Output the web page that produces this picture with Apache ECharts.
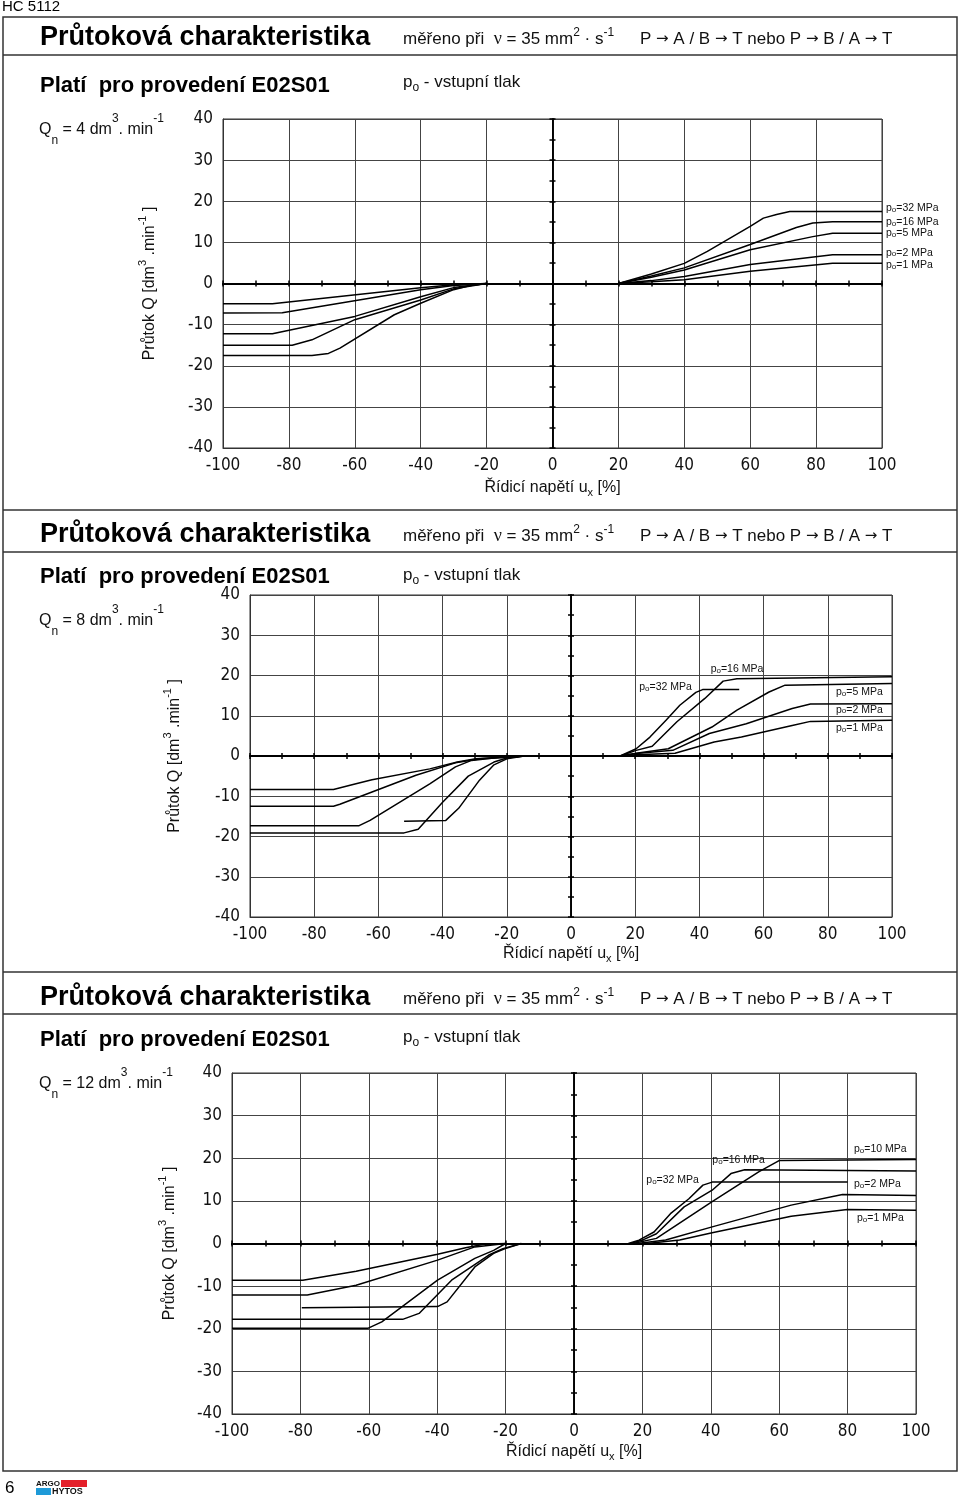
<!DOCTYPE html>
<html><head><meta charset="utf-8">
<script src="https://cdn.jsdelivr.net/npm/echarts/dist/echarts.min.js"></script>
<style>html,body{margin:0;padding:0;background:#fff}#c{width:960px;height:1501px}</style>
</head><body><div id="c"></div><script>
// ---------- tick labels ----------
const X_TICKS = [-100,-80,-60,-40,-20,0,20,40,60,80,100];
const Y_TICKS = [-40,-30,-20,-10,0,10,20,30,40];

// ---------- Panel 1 : Qn = 4 ----------
const q4_32_L = [[-100,-17.5],[-73,-17.5],[-68,-17],[-64.5,-15.7],[-48,-7.6],[-40,-4.8],[-30,-1.5],[-25,-0.5],[-20,0]];
const q4_16_L = [[-100,-15],[-79,-15],[-73,-13.7],[-60,-8.8],[-40,-4],[-30,-1.3],[-20,0]];
const q4_5_L  = [[-100,-12.2],[-85,-12.2],[-60,-8],[-40,-3.2],[-30,-1],[-20,0]];
const q4_2_L  = [[-100,-7.2],[-82,-7.1],[-40,-1.5],[-30,-0.5],[-20,0]];
const q4_1_L  = [[-100,-4.9],[-85,-4.9],[-40,-1.05],[-30,-0.3],[-20,0]];
const q4_32_R = [[20,0],[30,2.3],[40,4.9],[47,7.8],[60,13.9],[64,15.9],[68,16.8],[72,17.5],[100,17.5]];
const q4_16_R = [[20,0],[30,1.8],[40,3.8],[60,9.5],[74,13.6],[79,14.7],[85,15],[100,15]];
const q4_5_R  = [[20,0],[30,1.5],[40,3.3],[60,8.2],[79,11.4],[85,12.2],[100,12.2]];
const q4_2_R  = [[20,0],[30,0.7],[40,1.7],[60,4.6],[85,7],[100,7]];
const q4_1_R  = [[20,0],[30,0.4],[40,0.9],[60,3.0],[85,4.9],[100,4.9]];

// ---------- Panel 2 : Qn = 8 ----------
const q8_32_L = [[-52,-16.2],[-39,-16],[-35,-13],[-28.5,-6],[-24,-2.2],[-20,-0.7],[-14.6,0]];
const q8_16_L = [[-100,-19.1],[-52,-19.1],[-47.6,-18.2],[-40,-11.5],[-32,-5],[-24,-1.5],[-20,-0.5],[-15,0]];
const q8_5_L  = [[-100,-17.3],[-66,-17.3],[-62.6,-16],[-44,-6.9],[-36,-2.7],[-31,-1.1],[-22.6,-0.4],[-14.6,0]];
const q8_2_L  = [[-100,-12.5],[-74,-12.5],[-72,-12],[-48.3,-4.8],[-36,-1.7],[-28.3,-0.7],[-17,-0.25],[-14.6,0]];
const q8_1_L  = [[-100,-8.3],[-74,-8.3],[-67.6,-7],[-62,-5.9],[-44,-3.2],[-35.4,-1.5],[-29.7,-0.7],[-21,-0.25],[-14.6,0]];
const q8_32_R = [[15.3,0],[20.3,1.8],[24.6,4.7],[29.6,8.9],[33.9,12.6],[38.9,15.8],[41,16.5],[52.4,16.5]];
const q8_16_R = [[15.3,0],[20.3,1.4],[25.3,2.4],[33,8.5],[41.7,14.3],[47.4,18.6],[51.7,19.2],[100,19.7]];
const q8_5_R  = [[15.3,0],[20.3,0.7],[30.3,1.8],[43.9,7.2],[51.7,11.4],[61.7,15.9],[66.7,17.6],[100,18]];
const q8_2_R  = [[15.3,0],[20.3,0.6],[31.7,1.4],[43.1,5.6],[54.6,8],[68.9,11.8],[74.6,12.9],[100,13]];
const q8_1_R  = [[15.3,0],[20.3,0.3],[32.4,0.7],[44.6,3.5],[53.1,4.7],[68.9,7.6],[74.6,8.6],[100,8.9]];

// ---------- Panel 3 : Qn = 12 ----------
const q12_32_L = [[-79.6,-15.1],[-39.9,-14.8],[-37.1,-13.7],[-29,-5.5],[-23.5,-2.3],[-20.1,-1.2],[-15.4,0]];
const q12_16_L = [[-100,-17.8],[-50.1,-17.8],[-45.3,-16.4],[-35.8,-8.6],[-24.9,-2.7],[-20.8,-1.2],[-15.4,0]];
const q12_10_L = [[-100,-19.9],[-60.3,-19.9],[-56.2,-18.4],[-39.9,-8.6],[-29,-3.5],[-23.5,-1.6],[-20,0]];
const q12_2_L  = [[-100,-12.1],[-78,-12.1],[-63.7,-9.8],[-39.9,-3.9],[-29,-0.8],[-20,0]];
const q12_1_L  = [[-100,-8.6],[-79.3,-8.6],[-63.7,-6.5],[-39.9,-2.5],[-31.7,-1],[-26.3,-0.2],[-20,0]];
const q12_32_R = [[15.9,0],[19,0.8],[23.4,2.7],[28.2,7],[33.6,10.5],[37.7,13.7],[40.4,14.4],[80,14.4]];
const q12_16_R = [[16.6,0],[20,0.8],[24.1,2.3],[32.2,8.6],[40.4,12.5],[45.9,16.4],[49.9,17.3],[100,17]];
const q12_10_R = [[17.3,0],[24.1,1.2],[40.4,9.8],[54,16.8],[60.1,19.5],[100,19.7]];
const q12_2_R  = [[18.6,0],[26.8,0.8],[40.4,3.9],[63.5,9],[78.5,11.5],[100,11.25]];
const q12_1_R  = [[21.4,0],[30.9,0.8],[40.4,2.5],[63.5,6.4],[79.9,8],[100,7.8]];

// ---------- layout / styles ----------
const F = "'Liberation Sans', Arial, Helvetica, sans-serif";
const TF = "'Liberation Sans Narrow','DejaVu Sans Condensed','Roboto Condensed','Liberation Sans',sans-serif";

const panels = [
  { q:'4', grid:{left:223, top:119, width:659, height:329}, xGap:30, yGap:60,
    series:[
      ['32', q4_32_L, q4_32_R, {idx:-1, pos:'right', off:[0,-3]}],
      ['16', q4_16_L, q4_16_R, {idx:-1, pos:'right', off:[0,0]}],
      ['5',  q4_5_L,  q4_5_R,  {idx:-1, pos:'right', off:[0,0]}],
      ['2',  q4_2_L,  q4_2_R,  {idx:-1, pos:'right', off:[0,-2]}],
      ['1',  q4_1_L,  q4_1_R,  {idx:-1, pos:'right', off:[0,2]}]
    ]},
  { q:'8', grid:{left:250, top:595, width:642, height:322}, xGap:27, yGap:62,
    series:[
      ['32', q8_32_L, q8_32_R, {idx:5, pos:'left', off:[0,-5]}],
      ['16', q8_16_L, q8_16_R, {idx:6, pos:'top', off:[0,0]}],
      ['5',  q8_5_L,  q8_5_R,  {idx:-1, pos:'right', off:[-60,9]}],
      ['2',  q8_2_L,  q8_2_R,  {idx:-1, pos:'right', off:[-60,6]}],
      ['1',  q8_1_L,  q8_1_R,  {idx:-1, pos:'right', off:[-60,8]}]
    ]},
  { q:'12', grid:{left:232, top:1073, width:684, height:341}, xGap:28, yGap:49,
    series:[
      ['32', q12_32_L, q12_32_R, {idx:5, pos:'left', off:[0,-5]}],
      ['16', q12_16_L, q12_16_R, {idx:6, pos:'top', off:[-6,0]}],
      ['10', q12_10_L, q12_10_R, {idx:-1, pos:'right', off:[-66,-10]}],
      ['2',  q12_2_L,  q12_2_R,  {idx:-1, pos:'right', off:[-66,-11]}],
      ['1',  q12_1_L,  q12_1_R,  {idx:-1, pos:'right', off:[-63,8]}]
    ]}
];

const poRich = {
  a:{fontSize:10.5, fontFamily:F, color:'#111'},
  b:{fontSize:8, fontFamily:F, color:'#111', verticalAlign:'bottom', lineHeight:11}
};

function buildData(arr, lab, pr){
  if(!lab) return arr;
  const li = lab.idx < 0 ? arr.length + lab.idx : lab.idx;
  return arr.map((p,i)=> i!==li ? p : {
    value:p,
    label:{show:true, position:lab.pos, distance:4, offset:lab.off,
      formatter:'{a|p}{b|o}{a|=' + pr + ' MPa}', rich:poRich}
  });
}

const grids=[], xAxes=[], yAxes=[], series=[];
const xMin = X_TICKS[0], xMax = X_TICKS[X_TICKS.length-1];
const yMin = Y_TICKS[0], yMax = Y_TICKS[Y_TICKS.length-1];

panels.forEach((p,g)=>{
  grids.push(Object.assign({show:true, borderColor:'#333', borderWidth:1, containLabel:false}, p.grid));
  xAxes.push({gridIndex:g, type:'value', min:xMin, max:xMax, interval:X_TICKS[1]-X_TICKS[0], position:'bottom',
    axisLine:{show:true, onZero:false, lineStyle:{color:'#333', width:1}},
    axisTick:{show:false},
    axisLabel:{color:'#111', fontSize:17, fontFamily:TF, margin:9},
    splitLine:{show:true, lineStyle:{color:'#444', width:1}},
    name:'{t|Řídicí napětí u}{s|x}{t| [%]}', nameLocation:'middle', nameGap:p.xGap,
    nameTextStyle:{rich:{t:{fontSize:16, fontFamily:F, color:'#111', lineHeight:20},
                         s:{fontSize:11, fontFamily:F, color:'#111', lineHeight:12, verticalAlign:'bottom'}}}
  });
  [false,true].forEach(inside=>{
    xAxes.push({gridIndex:g, type:'value', min:xMin, max:xMax, interval:10, position:'bottom',
      axisLine:{show:true, onZero:true, lineStyle:{color:'#000', width:2.2}},
      axisTick:{show:true, inside:inside, length:3, lineStyle:{color:'#000', width:1.5}},
      axisLabel:{show:false}, splitLine:{show:false}});
  });
  yAxes.push({gridIndex:g, type:'value', min:yMin, max:yMax, interval:Y_TICKS[1]-Y_TICKS[0], position:'left',
    axisLine:{show:true, onZero:false, lineStyle:{color:'#333', width:1}},
    axisTick:{show:false},
    axisLabel:{color:'#111', fontSize:17, fontFamily:TF, margin:10},
    splitLine:{show:true, lineStyle:{color:'#444', width:1}},
    name:'{t|Průtok Q [dm}{s|3}{t| .min}{s|-1}{t| ]}', nameLocation:'middle', nameGap:p.yGap, nameRotate:90,
    nameTextStyle:{rich:{t:{fontSize:16, fontFamily:F, color:'#111', lineHeight:26},
                         s:{fontSize:11, fontFamily:F, color:'#111', lineHeight:12, verticalAlign:'top'}}}
  });
  [false,true].forEach(inside=>{
    yAxes.push({gridIndex:g, type:'value', min:yMin, max:yMax, interval:5, position:'left',
      axisLine:{show:true, onZero:true, lineStyle:{color:'#000', width:1.6}},
      axisTick:{show:true, inside:inside, length:3, lineStyle:{color:'#000', width:1.5}},
      axisLabel:{show:false}, splitLine:{show:false}});
  });
  p.series.forEach(([pr, L, R, lab])=>{
    [L,R].forEach((arr,k)=>{
      series.push({type:'line', name:'Q'+p.q+' po='+pr+(k?' R':' L'),
        xAxisIndex:3*g, yAxisIndex:3*g, data:buildData(arr, k===1?lab:null, pr),
        showSymbol:true, symbol:'circle', symbolSize:0, smooth:false, silent:true, z:4,
        lineStyle:{color:'#000', width:1.5}, itemStyle:{color:'#000'}});
    });
  });
});

// ---------- page decorations ----------
const AF = "'DejaVu Sans', sans-serif";
const headRich = {
  t:{fontSize:17, fontFamily:F, fill:'#111', lineHeight:24},
  a:{fontSize:15, fontFamily:AF, fill:'#111', lineHeight:24},
  g:{fontSize:18, fontFamily:"'Liberation Serif','DejaVu Serif',serif", fill:'#111', lineHeight:24},
  sup:{fontSize:12, fontFamily:F, fill:'#111', lineHeight:12, verticalAlign:'top'},
  sub:{fontSize:12, fontFamily:F, fill:'#111', lineHeight:12, verticalAlign:'bottom'}
};
const qRich = {
  t:{fontSize:16, fontFamily:F, fill:'#111', lineHeight:34},
  sup:{fontSize:12, fontFamily:F, fill:'#111', lineHeight:12, verticalAlign:'top'},
  sub:{fontSize:12, fontFamily:F, fill:'#111', lineHeight:22, verticalAlign:'bottom'}
};
function txt(x,y,text,opt){
  return Object.assign({type:'text', x:x, y:y, silent:true,
    style:Object.assign({text:text, fill:'#111', font:'16px '+F, align:'left', verticalAlign:'middle'}, opt||{})});
}
const graphic = [
  txt(2,7,'HC 5112',{font:'15px '+F, fill:'#000'}),
  {type:'rect', silent:true, shape:{x:3,y:17,width:954,height:1454}, style:{fill:'none', stroke:'#333', lineWidth:1.5}},
  txt(5,1488,'6',{font:'17px '+F, fill:'#000'}),
  {type:'rect', silent:true, shape:{x:61,y:1480,width:26,height:7}, style:{fill:'#e4202a'}},
  {type:'rect', silent:true, shape:{x:36,y:1488,width:15,height:7}, style:{fill:'#1e9ad8'}},
  txt(36,1484,'ARGO',{font:'bold 8px '+F, fill:'#111'}),
  txt(52,1492,'HYTOS',{font:'bold 9px '+F, fill:'#111'})
];
[55,510,552,972,1014].forEach(y=>graphic.push({type:'line', silent:true, shape:{x1:3,y1:y,x2:957,y2:y}, style:{stroke:'#333', lineWidth:1.5}}));
const headY = [[36,86,82,130],[533,577,575,621],[996,1040,1037,1084]];
headY.forEach((hy,i)=>{
  graphic.push(txt(40,hy[0]+2,'Průtoková charakteristika',{font:'bold 27px '+F, fill:'#000'}));
  graphic.push(txt(403,hy[0]+3,'{t|měřeno při  }{g|ν}{t| = 35 mm}{sup|2}{t| · s}{sup|-1}',{rich:headRich}));
  graphic.push(txt(640,hy[0]+3,'{t|P }{a|→}{t| A / B }{a|→}{t| T nebo P }{a|→}{t| B / A }{a|→}{t| T}',{rich:headRich}));
  graphic.push(txt(40,hy[1],'Platí  pro provedení E02S01',{font:'bold 22px '+F, fill:'#000'}));
  graphic.push(txt(403,hy[2],'{t|p}{sub|o}{t| - vstupní tlak}',{rich:headRich}));
  graphic.push(txt(39,hy[3],'{t|Q}{sub|n}{t| = '+panels[i].q+' dm}{sup|3}{t|. min}{sup|-1}',{rich:qRich}));
});

const chart = echarts.init(document.getElementById('c'), null, {renderer:'canvas'});
chart.setOption({
  animation:false,
  backgroundColor:'#fff',
  grid:grids, xAxis:xAxes, yAxis:yAxes, series:series, graphic:graphic
});
</script></body></html>
